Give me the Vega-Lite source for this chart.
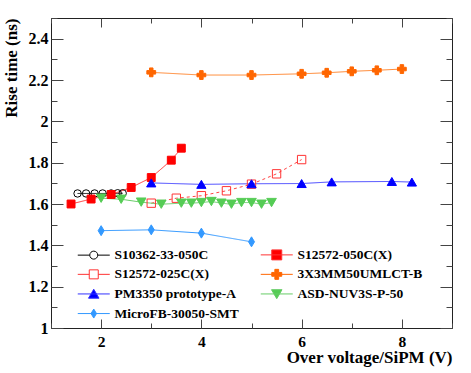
{
  "$schema": "https://vega.github.io/schema/vega-lite/v6.json",
  "width": 401,
  "height": 310,
  "autosize": {"type": "none"},
  "padding": {"left": 51, "top": 18, "right": 19, "bottom": 45},
  "background": "white",
  "config": {
    "view": {"stroke": "#222", "strokeWidth": 1},
    "axis": {"grid": false, "domain": false, "tickColor": "#444", "labelFont": "Liberation Serif", "labelFontWeight": "bold", "labelColor": "black", "titleFont": "Liberation Serif", "titleFontWeight": "bold", "titleColor": "black"}
  },
  "datasets": {
    "pts": [
      {"series": "S10362-33-050C", "x": 1.53, "y": 1.651},
      {"series": "S10362-33-050C", "x": 1.7, "y": 1.651},
      {"series": "S10362-33-050C", "x": 1.87, "y": 1.651},
      {"series": "S10362-33-050C", "x": 2.03, "y": 1.651},
      {"series": "S10362-33-050C", "x": 2.2, "y": 1.651},
      {"series": "S10362-33-050C", "x": 2.33, "y": 1.652},
      {"series": "S10362-33-050C", "x": 2.43, "y": 1.652},
      {"series": "S12572-050C(X)", "x": 1.4, "y": 1.6},
      {"series": "S12572-050C(X)", "x": 1.8, "y": 1.624},
      {"series": "S12572-050C(X)", "x": 2.2, "y": 1.646},
      {"series": "S12572-050C(X)", "x": 2.6, "y": 1.68},
      {"series": "S12572-050C(X)", "x": 3.0, "y": 1.728},
      {"series": "S12572-050C(X)", "x": 3.4, "y": 1.812},
      {"series": "S12572-050C(X)", "x": 3.6, "y": 1.87},
      {"series": "S12572-025C(X)", "x": 3.0, "y": 1.604},
      {"series": "S12572-025C(X)", "x": 3.5, "y": 1.628},
      {"series": "S12572-025C(X)", "x": 4.0, "y": 1.64},
      {"series": "S12572-025C(X)", "x": 4.5, "y": 1.664},
      {"series": "S12572-025C(X)", "x": 5.0, "y": 1.696},
      {"series": "S12572-025C(X)", "x": 5.5, "y": 1.746},
      {"series": "S12572-025C(X)", "x": 6.0, "y": 1.815},
      {"series": "3X3MM50UMLCT-B", "x": 3.0, "y": 2.237},
      {"series": "3X3MM50UMLCT-B", "x": 4.0, "y": 2.224},
      {"series": "3X3MM50UMLCT-B", "x": 5.0, "y": 2.224},
      {"series": "3X3MM50UMLCT-B", "x": 6.0, "y": 2.23},
      {"series": "3X3MM50UMLCT-B", "x": 6.5, "y": 2.235},
      {"series": "3X3MM50UMLCT-B", "x": 7.0, "y": 2.242},
      {"series": "3X3MM50UMLCT-B", "x": 7.5, "y": 2.247},
      {"series": "3X3MM50UMLCT-B", "x": 8.0, "y": 2.253},
      {"series": "PM3350 prototype-A", "x": 3.0, "y": 1.702},
      {"series": "PM3350 prototype-A", "x": 4.0, "y": 1.695},
      {"series": "PM3350 prototype-A", "x": 5.0, "y": 1.698},
      {"series": "PM3350 prototype-A", "x": 6.0, "y": 1.699},
      {"series": "PM3350 prototype-A", "x": 6.6, "y": 1.707},
      {"series": "PM3350 prototype-A", "x": 7.8, "y": 1.709},
      {"series": "PM3350 prototype-A", "x": 8.2, "y": 1.706},
      {"series": "ASD-NUV3S-P-50", "x": 2.0, "y": 1.628},
      {"series": "ASD-NUV3S-P-50", "x": 2.4, "y": 1.623},
      {"series": "ASD-NUV3S-P-50", "x": 2.8, "y": 1.609},
      {"series": "ASD-NUV3S-P-50", "x": 3.2, "y": 1.599},
      {"series": "ASD-NUV3S-P-50", "x": 3.6, "y": 1.604},
      {"series": "ASD-NUV3S-P-50", "x": 3.8, "y": 1.604},
      {"series": "ASD-NUV3S-P-50", "x": 4.0, "y": 1.607},
      {"series": "ASD-NUV3S-P-50", "x": 4.2, "y": 1.612},
      {"series": "ASD-NUV3S-P-50", "x": 4.4, "y": 1.604},
      {"series": "ASD-NUV3S-P-50", "x": 4.6, "y": 1.599},
      {"series": "ASD-NUV3S-P-50", "x": 4.8, "y": 1.607},
      {"series": "ASD-NUV3S-P-50", "x": 5.0, "y": 1.607},
      {"series": "ASD-NUV3S-P-50", "x": 5.2, "y": 1.599},
      {"series": "ASD-NUV3S-P-50", "x": 5.4, "y": 1.607},
      {"series": "MicroFB-30050-SMT", "x": 2.0, "y": 1.471},
      {"series": "MicroFB-30050-SMT", "x": 3.0, "y": 1.475},
      {"series": "MicroFB-30050-SMT", "x": 4.0, "y": 1.459},
      {"series": "MicroFB-30050-SMT", "x": 5.0, "y": 1.417}
    ]
  },
  "data": {"name": "pts"},
  "resolve": {
    "axis": {"x": "independent", "y": "independent"},
    "scale": {"shape": "independent", "fill": "independent", "stroke": "independent", "size": "independent"}
  },
  "layer": [
    {
      "mark": {"type": "line", "strokeWidth": 1, "clip": true},
      "encoding": {
        "x": {"field": "x", "type": "quantitative", "scale": {"domain": [1, 9], "nice": false, "zero": false},
          "axis": {"orient": "bottom", "values": [2, 4, 6, 8], "tickSize": -9, "labelFont": "Liberation Serif", "labelFontWeight": "bold", "labelFontSize": 15.5, "labelPadding": 15, "title": "Over voltage/SiPM (V)", "titleFont": "Liberation Serif", "titleFontSize": 17, "titleAnchor": "end", "titlePadding": 0}},
        "y": {"field": "y", "type": "quantitative", "scale": {"domain": [1, 2.5], "nice": false, "zero": false},
          "axis": {"orient": "left", "values": [1, 1.2, 1.4, 1.6, 1.8, 2, 2.2, 2.4], "format": ".1~f", "tickSize": -12, "labelFont": "Liberation Serif", "labelFontWeight": "bold", "labelFontSize": 16, "labelPadding": 15, "title": "Rise time (ns)", "titleFont": "Liberation Serif", "titleFontSize": 17, "titleAnchor": "end", "titlePadding": 8}},
        "color": {"field": "series", "type": "nominal", "legend": null,
          "scale": {"domain": ["S10362-33-050C", "S12572-050C(X)", "S12572-025C(X)", "3X3MM50UMLCT-B", "PM3350 prototype-A", "ASD-NUV3S-P-50", "MicroFB-30050-SMT"],
            "range": ["#000000", "#ff3333", "#ff4444", "#ff8833", "#4444ff", "#66cc66", "#3399ff"]}},
        "strokeDash": {"field": "series", "type": "nominal", "legend": null,
          "scale": {"domain": ["S10362-33-050C", "S12572-050C(X)", "S12572-025C(X)", "3X3MM50UMLCT-B", "PM3350 prototype-A", "ASD-NUV3S-P-50", "MicroFB-30050-SMT"],
            "range": [[1, 0], [1, 0], [3, 3], [1, 0], [1, 0], [1, 0], [1, 0]]}}
      }
    },
    {
      "mark": {"type": "point", "strokeWidth": 1, "opacity": 1, "clip": true},
      "encoding": {
        "x": {"field": "x", "type": "quantitative", "axis": {"orient": "bottom", "values": [1, 3, 5, 7, 9], "tickSize": -5, "labels": false, "title": null}},
        "y": {"field": "y", "type": "quantitative", "axis": {"orient": "left", "values": [1.1, 1.3, 1.5, 1.7, 1.9, 2.1, 2.3, 2.5], "tickSize": -6, "labels": false, "title": null}},
        "shape": {"field": "series", "type": "nominal", "legend": null,
          "scale": {"domain": ["S10362-33-050C", "S12572-050C(X)", "S12572-025C(X)", "3X3MM50UMLCT-B", "PM3350 prototype-A", "ASD-NUV3S-P-50", "MicroFB-30050-SMT"],
            "range": ["circle", "square", "square", "cross", "triangle-up", "triangle-down", "M0,-1L0.6,0L0,1L-0.6,0Z"]}},
        "fill": {"field": "series", "type": "nominal", "legend": null,
          "scale": {"domain": ["S10362-33-050C", "S12572-050C(X)", "S12572-025C(X)", "3X3MM50UMLCT-B", "PM3350 prototype-A", "ASD-NUV3S-P-50", "MicroFB-30050-SMT"],
            "range": ["transparent", "#ff0000", "transparent", "#ff6600", "#0000ff", "#55cc55", "#3399ff"]}},
        "stroke": {"field": "series", "type": "nominal", "legend": null,
          "scale": {"domain": ["S10362-33-050C", "S12572-050C(X)", "S12572-025C(X)", "3X3MM50UMLCT-B", "PM3350 prototype-A", "ASD-NUV3S-P-50", "MicroFB-30050-SMT"],
            "range": ["#000000", "#ff0000", "#ff3333", "#ff6600", "#0000ff", "#55cc55", "#3399ff"]}},
        "size": {"field": "series", "type": "nominal", "legend": null,
          "scale": {"domain": ["S10362-33-050C", "S12572-050C(X)", "S12572-025C(X)", "3X3MM50UMLCT-B", "PM3350 prototype-A", "ASD-NUV3S-P-50", "MicroFB-30050-SMT"],
            "range": [55, 100, 80, 100, 100, 90, 80]}}
      }
    },
    {
      "transform": [{"filter": "datum.x > 100"}],
      "mark": {"type": "point", "strokeWidth": 1, "opacity": 1},
      "encoding": {
        "x": {"field": "x", "type": "quantitative", "axis": {"orient": "top", "values": [2, 4, 6, 8], "tickSize": -9, "labels": false, "title": null}},
        "y": {"field": "y", "type": "quantitative", "axis": {"orient": "right", "values": [1, 1.2, 1.4, 1.6, 1.8, 2, 2.2, 2.4], "tickSize": -12, "labels": false, "title": null}},
        "shape": {"field": "series", "type": "nominal",
          "scale": {"domain": ["S10362-33-050C", "S12572-025C(X)", "PM3350 prototype-A", "MicroFB-30050-SMT", "S12572-050C(X)", "3X3MM50UMLCT-B", "ASD-NUV3S-P-50"],
            "range": [
              "M-3.2,0H-0.8M0.8,0H3.2M0.8,0A0.8,0.8,0,1,1,-0.8,0A0.8,0.8,0,1,1,0.8,0Z",
              "M-3.2,0H-0.9M0.9,0H3.2M-0.9,-0.9H0.9V0.9H-0.9Z",
              "M-3.2,0H3.2M0,-0.95L1.05,0.85H-1.05Z",
              "M-3.2,0H3.2M0,-0.9L0.55,0L0,0.9L-0.55,0Z",
              "M-3.2,0H3.2M-1,-1H1V1H-1Z",
              "M-3.2,0H3.2M-0.38,-1H0.38V-0.38H1V0.38H0.38V1H-0.38V0.38H-1V-0.38H-0.38Z",
              "M-3.2,0H3.2M-1.05,-0.85H1.05L0,0.95Z"
            ]},
          "legend": {"orient": "none", "legendX": 36, "legendY": 230, "columns": 2, "title": null, "symbolSize": 100, "symbolStrokeWidth": 1, "symbolOpacity": 1, "labelFont": "Liberation Serif", "labelFontWeight": "bold", "labelFontSize": 13.5, "labelColor": "black", "labelOffset": 14, "columnPadding": 19, "rowPadding": 4.6, "padding": 0, "labelLimit": 300}},
        "fill": {"field": "series", "type": "nominal",
          "scale": {"domain": ["S10362-33-050C", "S12572-025C(X)", "PM3350 prototype-A", "MicroFB-30050-SMT", "S12572-050C(X)", "3X3MM50UMLCT-B", "ASD-NUV3S-P-50"],
            "range": ["transparent", "transparent", "#0000ff", "#3399ff", "#ff0000", "#ff6600", "#55cc55"]}},
        "stroke": {"field": "series", "type": "nominal",
          "scale": {"domain": ["S10362-33-050C", "S12572-025C(X)", "PM3350 prototype-A", "MicroFB-30050-SMT", "S12572-050C(X)", "3X3MM50UMLCT-B", "ASD-NUV3S-P-50"],
            "range": ["#000000", "#ff3333", "#3333ff", "#3399ff", "#ff3333", "#ff6600", "#66cc66"]}}
      }
    },
    {
      "transform": [{"filter": "datum.x > 100"}],
      "mark": {"type": "point"},
      "encoding": {
        "x": {"field": "x", "type": "quantitative", "axis": {"orient": "top", "values": [1, 3, 5, 7, 9], "tickSize": -5, "labels": false, "title": null}},
        "y": {"field": "y", "type": "quantitative", "axis": {"orient": "right", "values": [1.1, 1.3, 1.5, 1.7, 1.9, 2.1, 2.3, 2.5], "tickSize": -6, "labels": false, "title": null}}
      }
    }
  ]
}
